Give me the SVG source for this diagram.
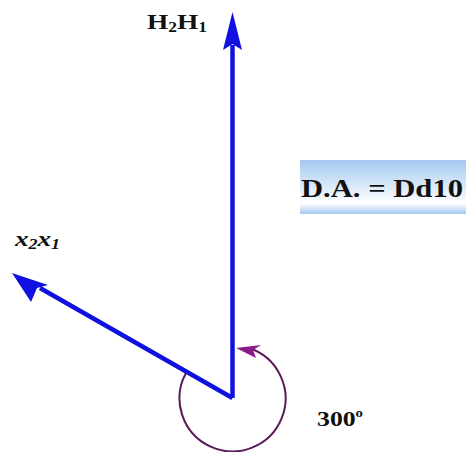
<svg xmlns="http://www.w3.org/2000/svg" width="466" height="452" viewBox="0 0 466 452">
<style>
.t{font-family:"Liberation Serif","Times New Roman",serif;font-weight:bold;fill:#111}
.vec{stroke:#1010e0;stroke-width:4.5;fill:none}
.arc{stroke:#5a1a5a;stroke-width:2;fill:none}
</style>
<defs>
<linearGradient id="g" x1="0" y1="0" x2="0" y2="1">
<stop offset="0" stop-color="#a4c8ef"/>
<stop offset="0.45" stop-color="#d6e7f8"/>
<stop offset="0.8" stop-color="#ffffff"/>
<stop offset="1" stop-color="#a4c8ef"/>
</linearGradient>
</defs>
<rect width="466" height="452" fill="#fff"/>
<g id="connectors">
<line class="vec" x1="232.5" y1="398" x2="232.5" y2="45"/>
<polygon points="232.5,12 242,50 232.5,44 223,50" fill="#1010e0"/>
<line class="vec" x1="232.5" y1="398" x2="40" y2="288"/>
<polygon points="12,273 48,285 37,288 31,302" fill="#1010e0"/>
<path class="arc" d="M186,373 A53,53 0 1 0 249,348"/>
<polygon points="236,348 261,345 253,350 256,358" fill="#8a1a8a"/>
</g>
<g id="H2H1"><text class="t" x="147" y="29" font-size="22" textLength="60" lengthAdjust="spacingAndGlyphs">H<tspan font-size="14" dy="3">2</tspan><tspan dy="-3">H</tspan><tspan font-size="14" dy="3">1</tspan></text></g>
<g id="DA"><rect x="300" y="160" width="166" height="54" fill="url(#g)"/>
<text class="t" x="301" y="197" font-size="26" textLength="162" lengthAdjust="spacingAndGlyphs">D.A. = Dd10</text></g>
<g id="x2x1"><text class="t" x="15" y="246" font-size="21" font-style="italic" textLength="45" lengthAdjust="spacingAndGlyphs">x<tspan font-size="14" dy="3">2</tspan><tspan dy="-3">x</tspan><tspan font-size="14" dy="3">1</tspan></text></g>
<g id="angle"><text class="t" x="317" y="426" font-size="21" textLength="46" lengthAdjust="spacingAndGlyphs">300<tspan font-size="12" dy="-9">o</tspan></text></g>
</svg>
